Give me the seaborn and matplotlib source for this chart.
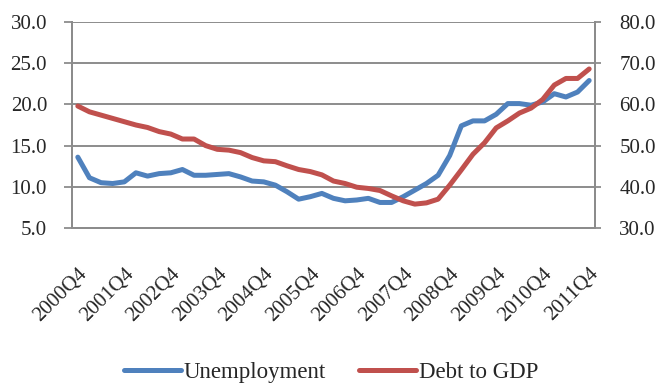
import matplotlib
matplotlib.use("Agg")
import matplotlib.pyplot as plt
import seaborn as sns
import pandas as pd
from matplotlib.ticker import FixedLocator, MultipleLocator

# quarterly data, 2000Q4 .. 2011Q4
quarters = [f"{y}Q{q}" for y in range(2000, 2012) for q in range(1, 5)][3:]

unemployment = [13.6, 11.1, 10.5, 10.4, 10.6, 11.7, 11.3, 11.6, 11.7, 12.1,
                11.4, 11.4, 11.5, 11.6, 11.2, 10.7, 10.6, 10.2, 9.4, 8.5,
                8.8, 9.2, 8.6, 8.3, 8.4, 8.6, 8.1, 8.1, 8.8, 9.6,
                10.4, 11.4, 13.8, 17.4, 18.0, 18.0, 18.8, 20.1, 20.1, 19.9,
                20.3, 21.3, 20.9, 21.5, 22.9]

debt_to_gdp = [59.6, 58.2, 57.4, 56.6, 55.8, 55.0, 54.4, 53.4, 52.8, 51.6,
               51.6, 50.0, 49.1, 48.9, 48.3, 47.1, 46.3, 46.1, 45.1, 44.2,
               43.7, 42.9, 41.4, 40.8, 39.9, 39.6, 39.1, 37.8, 36.6, 35.8,
               36.1, 37.0, 40.4, 44.1, 47.9, 50.7, 54.3, 56.0, 57.9, 59.1,
               61.2, 64.7, 66.3, 66.3, 68.6]

df = pd.DataFrame({"pos": range(len(quarters)), "quarter": quarters,
                   "Unemployment": unemployment, "Debt to GDP": debt_to_gdp})

sns.set_style("white")
plt.rcParams["font.family"] = ["Liberation Serif", "DejaVu Serif"]

blue = "#4F81BD"
red = "#C0504D"
grey = "#8C8C8C"

fig = plt.figure(figsize=(6.57, 3.86), dpi=100)
ax = fig.add_axes([0.1096, 0.4093, 0.796, 0.5337])
ax2 = ax.twinx()

sns.lineplot(data=df, x="pos", y="Unemployment", ax=ax, color=blue, lw=3.6,
             label="Unemployment", legend=False)
sns.lineplot(data=df, x="pos", y="Debt to GDP", ax=ax2, color=red, lw=3.6,
             label="Debt to GDP", legend=False)

ax.set_xlim(-0.5, len(quarters) - 0.5)
ax.set_ylim(5, 30)
ax2.set_ylim(30, 80)
ax.yaxis.set_major_locator(MultipleLocator(5))
ax2.yaxis.set_major_locator(MultipleLocator(10))
ax.set_yticklabels([f"{v:.1f}" for v in ax.get_yticks()])
ax2.set_yticklabels([f"{v:.1f}" for v in ax2.get_yticks()])

# category labels every 4th quarter, tick marks between categories
lab_pos = list(range(0, len(quarters), 4))
ax.xaxis.set_major_locator(FixedLocator(lab_pos))
ax.set_xticklabels([quarters[i] for i in lab_pos], rotation=45, ha="right",
                   rotation_mode="anchor")
ax.xaxis.set_minor_locator(FixedLocator([p - 0.5 for p in lab_pos]))
ax.tick_params(axis="x", which="major", length=0, pad=26, labelsize=15)
ax.tick_params(axis="x", which="minor", length=5, width=1.3, color=grey,
               direction="out")
ax.tick_params(axis="y", length=5.5, width=1.3, color=grey, labelsize=15, pad=12.5)
ax2.tick_params(axis="y", length=4.5, width=1.3, color=grey, labelsize=15, pad=13)

ax.grid(True, axis="y", color=grey, lw=1.4)
ax.set_axisbelow(True)
ax.set_xlabel("")
ax.set_ylabel("")
ax2.set_ylabel("")

for a in (ax, ax2):
    a.spines["top"].set_visible(False)
    for s in ("left", "right", "bottom"):
        a.spines[s].set_color(grey)
        a.spines[s].set_linewidth(1.4)

h1, l1 = ax.get_legend_handles_labels()
h2, l2 = ax2.get_legend_handles_labels()
fig.legend(h1 + h2, l1 + l2, loc="center", bbox_to_anchor=(0.504, 0.036),
           ncol=2, frameon=False, fontsize=16.5, handlelength=2.5,
           handletextpad=0.13, columnspacing=1.44)

fig.savefig("out.png", dpi=100)
